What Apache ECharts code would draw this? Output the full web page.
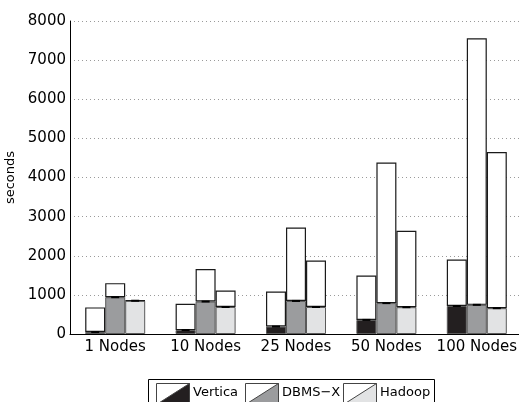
<!DOCTYPE html>
<html>
<head>
<meta charset="utf-8">
<script src="https://cdn.jsdelivr.net/npm/echarts@6/dist/echarts.min.js"></script>
<style>
  html, body { margin: 0; padding: 0; background: #fff; }
  #chart { width: 519px; height: 402px; }
</style>
</head>
<body>
<div id="chart"></div>
<script>
// Run times per cluster size: lower (shaded) phase and total run time, in seconds
const categories = ['1 Nodes', '10 Nodes', '25 Nodes', '50 Nodes', '100 Nodes'];
const systems = ['Vertica', 'DBMS\u2212X', 'Hadoop'];
const verticaBase  = [50, 100, 190, 360, 715];
const verticaTotal = [680, 770, 1085, 1495, 1905];
const dbmsxBase    = [940, 830, 845, 790, 745];
const dbmsxTotal   = [1300, 1660, 2720, 4385, 7560];
const hadoopBase   = [850, 690, 690, 685, 660];
const hadoopTotal  = [860, 1110, 1880, 2640, 4650];
const yMin = 0, yMax = 8000, yStep = 1000;

const bases  = [verticaBase, dbmsxBase, hadoopBase];
const totals = [verticaTotal, dbmsxTotal, hadoopTotal];
const fills  = ['#231f20', '#9b9c9e', '#e2e3e4'];
const FONT = 'DejaVu Sans';
const BAR_W = 20;

const series = [];
systems.forEach((name, i) => {
  series.push({
    type: 'bar', name: name, stack: 'sys' + i,
    data: bases[i],
    barWidth: BAR_W, barGap: '0%',
    itemStyle: { color: fills[i], borderColor: '#5a5a5a', borderWidth: 1 }
  });
  series.push({
    type: 'bar', name: name + ' rest', stack: 'sys' + i,
    data: totals[i].map((t, j) => t - bases[i][j]),
    barWidth: BAR_W, barGap: '0%',
    itemStyle: { color: '#ffffff', borderColor: '#1a1a1a', borderWidth: 1.2 }
  });
});

// short dash marking the top of each shaded phase
systems.forEach((name, i) => {
  series.push({
    type: 'custom', name: name + ' mark', z: 10, silent: true,
    data: bases[i].map((v, j) => [j, v]),
    renderItem: function (params, api) {
      const p = api.coord([api.value(0), api.value(1)]);
      const cx = p[0] + (i - 1) * BAR_W;
      return {
        type: 'line',
        shape: { x1: cx - 4, y1: p[1], x2: cx + 4, y2: p[1] },
        style: { stroke: '#000', lineWidth: 2 }
      };
    }
  });
});

// legend box with split-square swatches
const legendX = [156, 245, 343];
const legendGraphic = [{
  type: 'rect', shape: { x: 148.5, y: 379.5, width: 286, height: 40 },
  style: { fill: '#fff', stroke: '#000', lineWidth: 1 }
}];
systems.forEach((name, i) => {
  const x = legendX[i], y = 383, w = 33, h = 21;
  legendGraphic.push({
    type: 'rect', shape: { x: x + 0.5, y: y + 0.5, width: w, height: h },
    style: { fill: '#fff', stroke: '#444', lineWidth: 1 }
  });
  legendGraphic.push({
    type: 'polygon', shape: { points: [[x + 0.5, y + h + 0.5], [x + w + 0.5, y + 0.5], [x + w + 0.5, y + h + 0.5]] },
    style: { fill: fills[i], stroke: '#444', lineWidth: 1 }
  });
  legendGraphic.push({
    type: 'text', x: x + w + 4, y: 393,
    style: { text: name, fill: '#000', font: '13px "' + FONT + '"', verticalAlign: 'middle', align: 'left' }
  });
});

const chart = echarts.init(document.getElementById('chart'), null, { renderer: 'canvas' });
chart.setOption({
  animation: false,
  backgroundColor: '#fff',
  grid: { left: 70, top: 21, width: 452, bottom: 68, containLabel: false, outerBoundsMode: 'none' },
  xAxis: {
    type: 'category', data: categories,
    axisLine: { show: true, lineStyle: { color: '#000', width: 1 } },
    axisTick: { show: false },
    axisLabel: { color: '#000', fontFamily: FONT, fontSize: 15, margin: 6, interval: 0, hideOverlap: false },
    splitLine: { show: false }
  },
  yAxis: {
    type: 'value', min: yMin, max: yMax, interval: yStep,
    name: 'seconds', nameLocation: 'middle', nameGap: 48,
    nameTextStyle: { color: '#000', fontFamily: FONT, fontSize: 13 },
    axisLine: { show: true, lineStyle: { color: '#000', width: 1 } },
    axisTick: { show: false },
    axisLabel: { color: '#000', fontFamily: FONT, fontSize: 15, margin: 4, formatter: v => String(v) },
    splitLine: { show: true, lineStyle: { color: '#9a9a9a', width: 1, type: [1, 3] } }
  },
  graphic: legendGraphic,
  series: series
});
</script>
</body>
</html>
